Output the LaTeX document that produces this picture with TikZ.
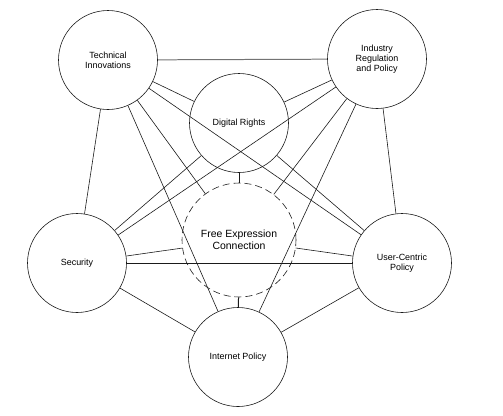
\documentclass[tikz,border=0pt]{standalone}
\usepackage{fontspec}
\setmainfont{Liberation Sans}
\usetikzlibrary{positioning,calc}
\definecolor{Ink}{HTML}{1A1A1A}
\tikzset{
 topic/.style={circle,draw=Ink,line width=.6pt,minimum size=99bp,inner sep=0pt,align=center,font=\fontsize{9}{10}\selectfont},
 hub/.style={topic,dash pattern=on 7bp off 4bp,minimum size=114bp,font=\fontsize{10.5}{12}\selectfont},
 link/.style={draw=Ink,line width=.6pt},
 tick/.style={link,line width=1pt}
}
\begin{document}
\begin{tikzpicture}[x=1bp,y=-1bp]
\useasboundingbox (0,0) rectangle (503,415);
\node[topic] (tech) at (108,60) {Technical\\Innovations};
\node[topic] (indu) at (377,59) {Industry\\Regulation\\and Policy};
\node[topic] (digi) at (239,123) {Digital Rights};
\node[hub] (free) at (239,240) {Free Expression\\Connection};
\node[topic] (secu) at (77,263) {Security};
\node[topic] (user) at (402,263) {User-Centric\\Policy};
\node[topic] (inet) at (238,357) {Internet Policy};
% links between the topics
\foreach \a/\b in {tech/secu,tech/digi,tech/free,tech/user,tech/inet,indu/user,indu/digi,indu/free,indu/secu,indu/inet,digi/secu,digi/user,free/secu,free/user,secu/inet,user/inet}
 \draw[link] (\a) -- (\b);
\draw[link,draw=black!55,line width=1pt] (tech) -- (indu);
\draw[link,line width=.9pt] (secu) -- (user);
\draw[tick] (digi) -- (free);
\draw[tick] (free) -- (inet);
\end{tikzpicture}
\end{document}
